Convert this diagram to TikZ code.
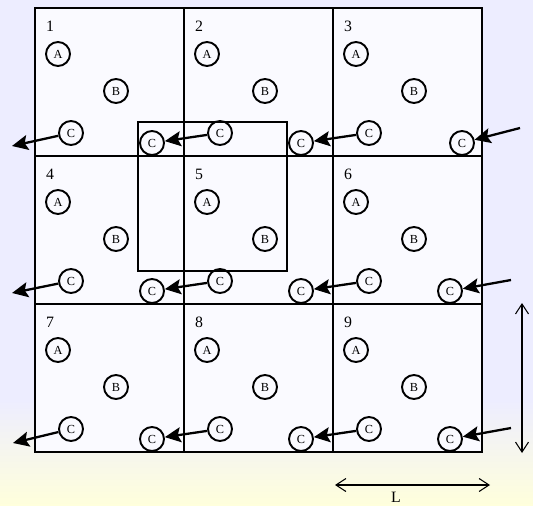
\documentclass[tikz,border=0pt]{standalone}
\usepackage{fontspec}
\setmainfont{Liberation Serif}
\usetikzlibrary{arrows.meta}
\begin{document}
\begin{tikzpicture}[x=0.02cm,y=-0.02cm,
    part/.style={draw,circle,line width=1.1pt,minimum size=0.48cm,inner sep=0pt,font=\scriptsize},
    jump/.style={line width=1.3pt,-{Stealth[length=3.2mm,width=3mm,inset=0.6mm]}},
    size/.style={line width=0.6pt,{Straight Barb[length=2mm,width=2.6mm]}-{Straight Barb[length=2mm,width=2.6mm]}}]
\useasboundingbox (0,0) rectangle (533,506);
\fill[blue!7] (0,0) rectangle (533,400);
\shade[top color=blue!7,bottom color=yellow!14] (0,400) rectangle (533,506);
% the nine periodic images
\foreach \n/\cx/\cy/\s in {1/35/8/0,2/184/8/0,3/333/8/12,4/35/156/0,5/184/156/0,6/333/156/0,7/35/304/0,8/184/304/0,9/333/304/0}{
  \fill[white!70!blue!7] (\cx,\cy) rectangle ++(149,148);
  \draw[line width=0.9pt] (\cx,\cy) rectangle ++(149,148);
  \node[font=\small] (n\n) at (\cx+15,\cy+18) {\n};
  \node[part] (A\n) at (\cx+23,\cy+46) {A};
  \node[part] (B\n) at (\cx+81,\cy+83) {B};
  \node[part] (C\n) at (\cx+36,\cy+125) {C};
  \node[part] (Cp\n) at (\cx+117+\s,\cy+135) {C};
}
% simulation box
\draw[line width=0.9pt] (138,122) rectangle (287,271);
% where C leaves and comes back
\coordinate (out1) at (12,146);
\coordinate (out2) at (12,293);
\coordinate (out3) at (13,443);
\coordinate (in1) at (520,128);
\coordinate (in2) at (511,280);
\coordinate (in3) at (511,428);
\foreach \l/\m/\r [count=\k] in {1/2/3,4/5/6,7/8/9}{
  \draw[jump] (C\m) -- (Cp\l);
  \draw[jump] (C\r) -- (Cp\m);
  \draw[jump] (C\l) -- (out\k);
  \draw[jump] (in\k) -- (Cp\r);
}
% box length
\coordinate (h1) at (335,485);
\coordinate (h2) at (490,485);
\coordinate (v1) at (522,303);
\coordinate (v2) at (522,453);
\draw[size] (h1) -- (h2);
\draw[size] (v1) -- (v2);
\node[font=\small] (lenL) at (396,497) {L};
\end{tikzpicture}
\end{document}
